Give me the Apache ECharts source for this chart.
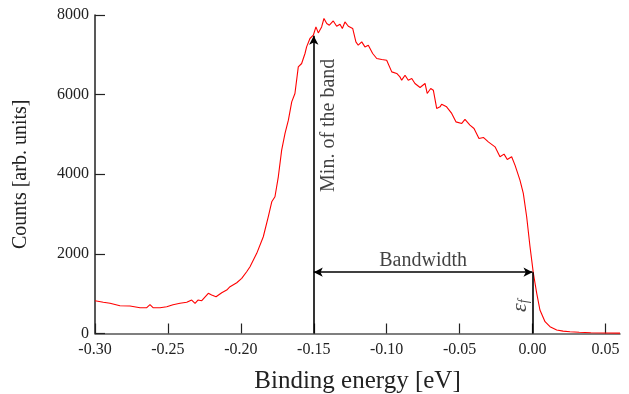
<!DOCTYPE html>
<html>
<head>
<meta charset="utf-8">
<script src="https://cdn.jsdelivr.net/npm/echarts@6/dist/echarts.min.js"></script>
<style>html,body{margin:0;padding:0;background:#fff}#c{width:629px;height:394px}</style>
</head>
<body>
<div id="c"></div>
<script>
var energy = [-0.300,-0.2943,-0.2897,-0.2829,-0.2760,-0.2691,-0.2645,-0.2623,-0.2602,-0.2554,-0.2508,-0.2465,-0.2417,-0.2371,-0.2337,-0.2314,-0.2294,-0.2268,-0.2223,-0.2200,-0.2170,-0.2131,-0.2097,-0.2074,-0.2028,-0.1994,-0.1960,-0.1937,-0.1891,-0.1846,-0.1812,-0.1788,-0.1766,-0.1743,-0.1720,-0.1697,-0.1674,-0.1651,-0.1629,-0.1606,-0.1583,-0.1560,-0.1549,-0.1526,-0.1503,-0.1485,-0.1469,-0.1446,-0.1430,-0.1411,-0.1393,-0.1366,-0.1343,-0.1320,-0.1304,-0.1286,-0.1263,-0.1233,-0.1211,-0.1195,-0.1171,-0.1149,-0.1126,-0.1096,-0.1068,-0.1034,-0.1000,-0.0965,-0.0931,-0.0909,-0.0897,-0.0874,-0.0852,-0.0828,-0.0806,-0.0771,-0.0737,-0.0722,-0.0698,-0.0680,-0.0657,-0.0634,-0.0623,-0.0589,-0.0554,-0.0525,-0.0485,-0.0463,-0.0429,-0.0401,-0.0367,-0.0337,-0.0303,-0.0257,-0.0223,-0.0195,-0.0173,-0.0143,-0.0120,-0.0086,-0.0063,-0.0040,-0.0017,0.0006,0.0029,0.0051,0.0086,0.0120,0.0166,0.0210,0.0257,0.0320,0.0400,0.0500,0.0600];
var counts = [823,783,758,698,690,648,648,723,648,648,673,723,758,783,841,758,841,823,1009,966,924,1024,1092,1175,1275,1386,1551,1677,2013,2430,2932,3308,3434,3936,4606,5025,5359,5818,6029,6697,6782,7033,7199,7410,7492,7701,7550,7701,7912,7786,7743,7851,7718,7768,7661,7826,7718,7661,7324,7241,7324,7199,7241,7033,6908,6882,6865,6571,6531,6446,6363,6488,6363,6406,6280,6180,6280,6029,6155,6112,5653,5693,5760,5693,5527,5316,5276,5376,5233,5150,4900,4925,4814,4689,4438,4505,4372,4438,4229,3853,3519,2932,2179,1511,1009,590,296,171,88,60,45,30,20,12,10];
var xTicks = [-0.30,-0.25,-0.20,-0.15,-0.10,-0.05,0.00,0.05];
var yTicks = [0,2000,4000,6000,8000];
var bandMin = -0.15, fermi = 0.00, bandMinHeight = 7480, bandwidthLevel = 1540;
var labels = [
  {text:'Min. of the band', x:-0.1395, y:5230, rot:90},
  {text:'Bandwidth', x:-0.075, y:1820, rot:0},
  {text:'ε', x:-0.0085, y:700, rot:90, italic:true}
];

var serif = '"Liberation Serif","DejaVu Serif",serif';
var chart = echarts.init(document.getElementById('c'), null, {renderer:'canvas'});
var data = energy.map(function(e,i){return [e, counts[i]];});
chart.setOption({
  animation:false,
  backgroundColor:'#fff',
  grid:{left:95, right:9, top:15, bottom:60.5, containLabel:false, outerBoundsMode:'none'},
  xAxis:{
    type:'value', min:xTicks[0], max:0.06, interval:0.05,
    name:'Binding energy [eV]', nameLocation:'middle', nameGap:35,
    nameTextStyle:{fontFamily:serif, fontSize:25, color:'#222'},
    axisLine:{show:true, onZero:false, lineStyle:{color:'#555', width:1.5}},
    axisTick:{show:true, inside:true, length:10, customValues:xTicks, lineStyle:{color:'#222', width:1.2}},
    axisLabel:{fontFamily:serif, fontSize:16, color:'#222', margin:8, customValues:xTicks,
      formatter:function(v){ var r=Math.round(v*100)/100; return (Math.abs(r)<1e-9?0:r).toFixed(2);} },
    splitLine:{show:false}
  },
  yAxis:{
    type:'value', min:yTicks[0], max:yTicks[yTicks.length-1], interval:2000,
    name:'Counts [arb. units]', nameLocation:'middle', nameGap:64,
    nameTextStyle:{fontFamily:serif, fontSize:20, color:'#222'},
    axisLine:{show:true, onZero:false, lineStyle:{color:'#222', width:1.5}},
    axisTick:{show:true, inside:true, length:10, lineStyle:{color:'#222', width:1.2}},
    axisLabel:{fontFamily:serif, fontSize:16, color:'#222', margin:6,
      formatter:function(v){return String(Math.round(v));}},
    splitLine:{show:false}
  },
  series:[
    {type:'line', data:data, symbol:'none', smooth:false,
     lineStyle:{color:'#ff0000', width:1.1}, z:3,
     markLine:{silent:true, symbolSize:[7,9], animation:false,
       label:{show:false},
       lineStyle:{color:'#000', width:1.6, type:'solid'},
       data:[
         [{coord:[bandMin,0], symbol:'none'},{coord:[bandMin,bandMinHeight], symbol:'arrow'}],
         [{coord:[bandMin,bandwidthLevel], symbol:'arrow'},{coord:[fermi,bandwidthLevel], symbol:'arrow'}],
         [{coord:[fermi,0], symbol:'none'},{coord:[fermi,bandwidthLevel], symbol:'none'}]
       ]}
    },
    {type:'scatter', symbolSize:0, z:5,
     data:labels.map(function(l){return {value:[l.x,l.y], label:{show:true, formatter: l.italic ? '{e|ε}{f|f}' : l.text, rotate:l.rot, position:'inside', fontFamily:serif, fontSize:20, color:'#111',
       rich:{e:{fontFamily:serif, fontSize:22, fontStyle:'italic', color:'#111'}, f:{fontFamily:serif, fontSize:14, fontStyle:'italic', color:'#111', verticalAlign:'bottom', padding:[8,0,0,0]}}}};})
    }
  ]
});
</script>
</body>
</html>
